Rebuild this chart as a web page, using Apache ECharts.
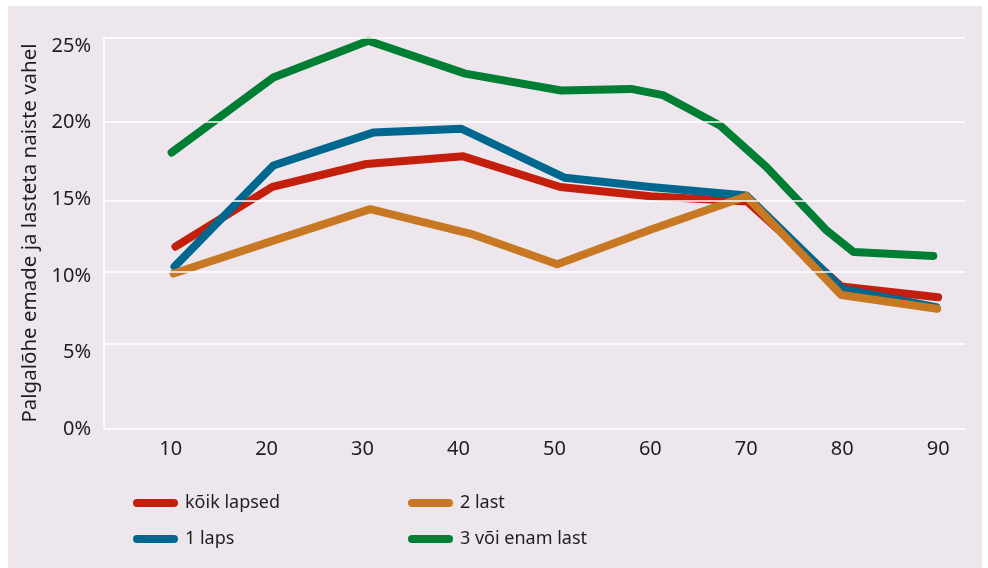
<!DOCTYPE html>
<html>
<head>
<meta charset="utf-8">
<script src="https://cdn.jsdelivr.net/npm/echarts@6/dist/echarts.min.js"></script>
<style>
  html, body { margin: 0; padding: 0; background: #ffffff; }
  #chart { width: 988px; height: 568px; }
</style>
</head>
<body>
<div id="chart"></div>
<script>
// Pay gap between mothers and childless women, by position in the wage distribution
const seriesNames = ['kõik lapsed', '1 laps', '2 last', '3 või enam last'];

const koikLapsed = [[10.5, 11.9], [20.6, 15.8], [30.4, 17.3], [40.5, 17.8], [50.6, 15.8], [60, 15.2], [70.1, 14.85], [79.9, 9.3], [90, 8.6]];
const uksLaps = [[10.4, 10.6], [20.7, 17.2], [31.1, 19.35], [40.3, 19.6], [51.1, 16.4], [60, 15.8], [70.0, 15.25], [80.0, 9.15], [89.8, 7.95]];
const kaksLast = [[10.3, 10.15], [20.7, 12.3], [30.8, 14.35], [41.5, 12.7], [50.3, 10.75], [60, 13.0], [70.0, 15.2], [79.9, 8.75], [89.9, 7.85]];
const kolmJaEnam = [[10.1, 18.05], [20.7, 22.95], [30.6, 25.35], [40.7, 23.2], [50.7, 22.1], [58.0, 22.2], [61.3, 21.8], [67.3, 19.8], [72.1, 17.1], [78.3, 13.0], [81.2, 11.55], [89.5, 11.3]];

const xTicks = [10, 20, 30, 40, 50, 60, 70, 80, 90];
const yTicks = [0, 5, 10, 15, 20, 25];
const gridLevels = [5.55, 10.25, 14.88, 20.04, 25.55];

const colors = ['#c41f0d', '#00678f', '#c87822', '#007e33'];
const font = 'Noto Sans';
const pill = 'path://M4,0 H41 A4,4 0 0 1 41,8 H4 A4,4 0 0 1 4,0 Z';

function lineSeries(name, data, color) {
  return {
    name: name,
    type: 'line',
    data: data,
    z: 3,
    symbol: 'none',
    color: color,
    lineStyle: { width: 8, color: color, cap: 'round', join: 'round' },
    emphasis: { disabled: true },
    animation: false
  };
}

const chart = echarts.init(document.getElementById('chart'), null, { renderer: 'canvas' });

const legendCommon = {
  orient: 'vertical',
  top: 489,
  icon: pill,
  itemWidth: 45, itemHeight: 8,
  itemGap: 18,
  textStyle: { color: '#1e1e1e', fontSize: 18, fontFamily: font, padding: [0, 0, 0, 2] },
  selectedMode: false
};

chart.setOption({
  backgroundColor: '#ffffff',
  animation: false,
  textStyle: { fontFamily: font },
  graphic: [{
    type: 'rect',
    left: 8, top: 6,
    shape: { width: 974, height: 562 },
    style: { fill: '#ede6ed' },
    z: -10,
    silent: true
  }],
  grid: { left: 104, right: 23, top: 37, bottom: 139 },
  xAxis: {
    type: 'value',
    min: 3.05,
    max: 92.8,
    axisLine: { show: true, lineStyle: { color: '#ffffff', width: 1.5 } },
    axisTick: { show: false },
    splitLine: { show: false },
    axisLabel: {
      customValues: xTicks,
      color: '#1e1e1e',
      fontSize: 20,
      fontFamily: font,
      margin: 10
    }
  },
  yAxis: {
    type: 'value',
    min: 0,
    max: 25.59,
    name: 'Palgalõhe emade ja lasteta naiste vahel',
    nameLocation: 'middle',
    nameGap: 62,
    nameTextStyle: { color: '#1e1e1e', fontSize: 20.5, fontFamily: font },
    axisLine: { show: true, lineStyle: { color: '#ffffff', width: 1.5 } },
    axisTick: { show: false },
    splitLine: { show: false },
    axisLabel: {
      customValues: yTicks,
      formatter: v => v + '%',
      color: '#1e1e1e',
      fontSize: 20,
      fontFamily: font,
      margin: 13
    }
  },
  legend: [
    Object.assign({ data: ['kõik lapsed', '1 laps'], left: 128 }, legendCommon),
    Object.assign({ data: ['2 last', '3 või enam last'], left: 403 }, legendCommon)
  ],
  series: [
    {
      type: 'line',
      data: [],
      z: 1,
      silent: true,
      markLine: {
        silent: true,
        symbol: 'none',
        label: { show: false },
        lineStyle: { color: '#ffffff', width: 1.5, type: 'solid' },
        emphasis: { disabled: true },
        data: gridLevels.map(v => ({ yAxis: v }))
      }
    },
    lineSeries(seriesNames[0], koikLapsed, colors[0]),
    lineSeries(seriesNames[1], uksLaps, colors[1]),
    lineSeries(seriesNames[2], kaksLast, colors[2]),
    lineSeries(seriesNames[3], kolmJaEnam, colors[3])
  ]
});
</script>
</body>
</html>
